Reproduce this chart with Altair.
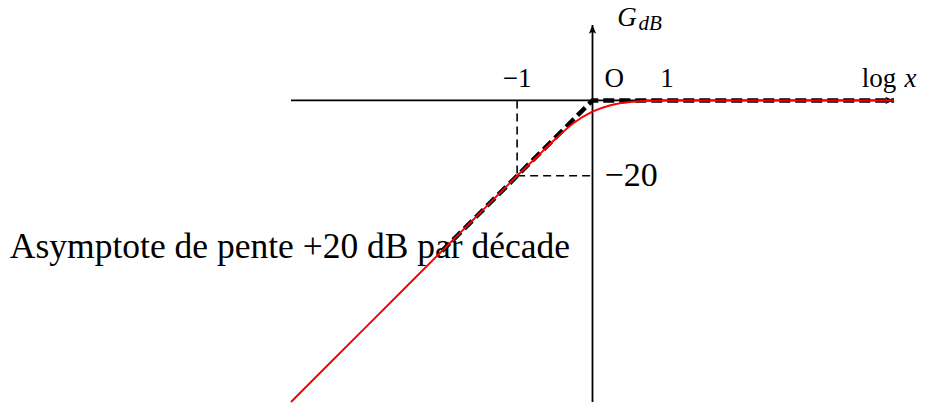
import altair as alt
import pandas as pd

# Bode gain diagram of a first-order high-pass filter.
# Horizontal: log x (decades), vertical: G_dB (dB).

# Gain curve G_dB vs log x
curve_logx = [-4, -3, -2, -1.5, -1, -0.75, -0.5, -0.25, 0, 0.25, 0.5, 0.75, 1, 1.5, 2, 3, 4]
curve_gdb = [-80, -60, -40, -30, -20, -15.2, -10.4, -6.0, -3.0, -1.2, -0.4, -0.14, -0.04, 0, 0, 0, 0]

# Asymptotic diagram (+20 dB/decade, then 0 dB)
asym_logx = [-2, 0, 4]
asym_gdb = [-40, 0, 0]

# Construction lines through the point (-1, -20)
guide_x = [-1, -1]
guide_y = [0, -20]
guide_x2 = [-1, 0]
guide_y2 = [-20, -20]

# Axes extents
axis_x = [-4, 0]
axis_y = [0, -80]
axis_x2 = [4, 0]
axis_y2 = [0, 20]

X_DOMAIN = [-4, 4]
Y_DOMAIN = [-80, 20]
FONT = "Liberation Serif"

xs = alt.Scale(domain=X_DOMAIN, nice=False, zero=False)
ys = alt.Scale(domain=Y_DOMAIN, nice=False, zero=False)


def X(field="x"):
    return alt.X(f"{field}:Q", scale=xs, axis=None)


def Y(field="y"):
    return alt.Y(f"{field}:Q", scale=ys, axis=None)


axes_df = pd.DataFrame({"x": axis_x, "y": axis_y, "x2": axis_x2, "y2": axis_y2})
axes = alt.Chart(axes_df).mark_rule(color="black", strokeWidth=1.8).encode(
    x=X(), y=Y(), x2="x2:Q", y2="y2:Q"
)

# Arrow heads: tip sits on the point, shape points up before rotation
arrow_path = "M0,0 L-0.42,1 L0,0.78 L0.42,1 Z"
arrows_df = pd.DataFrame({"x": [0, 4], "y": [20, 0], "rot": [0, 90]})
arrows = alt.Chart(arrows_df).mark_point(
    shape=arrow_path, filled=True, color="black", size=300, opacity=1, strokeWidth=0
).encode(x=X(), y=Y(), angle=alt.Angle("rot:Q", scale=None))

guides_df = pd.DataFrame({"x": guide_x, "y": guide_y, "x2": guide_x2, "y2": guide_y2})
guides = alt.Chart(guides_df).mark_rule(
    color="black", strokeWidth=1.6, strokeDash=[8, 5]
).encode(x=X(), y=Y(), x2="x2:Q", y2="y2:Q")

asym_df = pd.DataFrame({"x": asym_logx, "y": asym_gdb})
asym = alt.Chart(asym_df).mark_line(
    color="black", strokeWidth=4.5, strokeDash=[11, 5], strokeJoin="miter"
).encode(x=X(), y=Y())

curve_df = pd.DataFrame({"x": curve_logx, "y": curve_gdb})
curve = alt.Chart(curve_df).mark_line(
    color="#ff0000", strokeWidth=2, interpolate="monotone"
).encode(x=X(), y=Y())

# Text annotations (positions in data units)
small_df = pd.DataFrame({
    "t": ["\u22121", "O", "1", "log"],
    "x": [-1.0, 0.29, 0.99, 4.03],
    "y": [3.6, 3.6, 3.6, 3.6],
})
small_center = alt.Chart(small_df.iloc[:3]).mark_text(
    font=FONT, fontSize=27, align="center", baseline="alphabetic", color="black"
).encode(x=X(), y=Y(), text="t:N")
small_right = alt.Chart(small_df.iloc[3:]).mark_text(
    font=FONT, fontSize=27, align="right", baseline="alphabetic", color="black"
).encode(x=X(), y=Y(), text="t:N")

italic_df = pd.DataFrame({"t": ["x", "G"], "x": [4.14, 0.33], "y": [3.6, 19.8]})
italic = alt.Chart(italic_df).mark_text(
    font=FONT, fontSize=27, fontStyle="italic", align="left", baseline="alphabetic", color="black"
).encode(x=X(), y=Y(), text="t:N")

sub_df = pd.DataFrame({"t": ["dB"], "x": [0.61], "y": [18.6]})
sub = alt.Chart(sub_df).mark_text(
    font=FONT, fontSize=21, fontStyle="italic", align="left", baseline="alphabetic", color="black"
).encode(x=X(), y=Y(), text="t:N")

big_df = pd.DataFrame({
    "t": ["\u221220", "Asymptote de pente +20 dB par d\u00e9cade"],
    "x": [0.16, -7.73],
    "y": [-22.6, -41.7],
})
big = alt.Chart(big_df.iloc[:1]).mark_text(
    font=FONT, fontSize=34, align="left", baseline="alphabetic", color="black"
).encode(x=X(), y=Y(), text="t:N")
caption = alt.Chart(big_df.iloc[1:]).mark_text(
    font=FONT, fontSize=35.5, align="left", baseline="alphabetic", color="black"
).encode(x=X(), y=Y(), text="t:N")

chart = alt.layer(
    big, caption, small_center, small_right, italic, sub,
    axes, arrows, guides, asym, curve
).properties(
    width=603,
    height=377,
    padding={"left": 291, "top": 25, "right": 33, "bottom": 1},
    autosize="none",
    background="white",
).configure_view(stroke=None)

chart.save("out.html", embed_options={"renderer": "svg", "actions": False})
